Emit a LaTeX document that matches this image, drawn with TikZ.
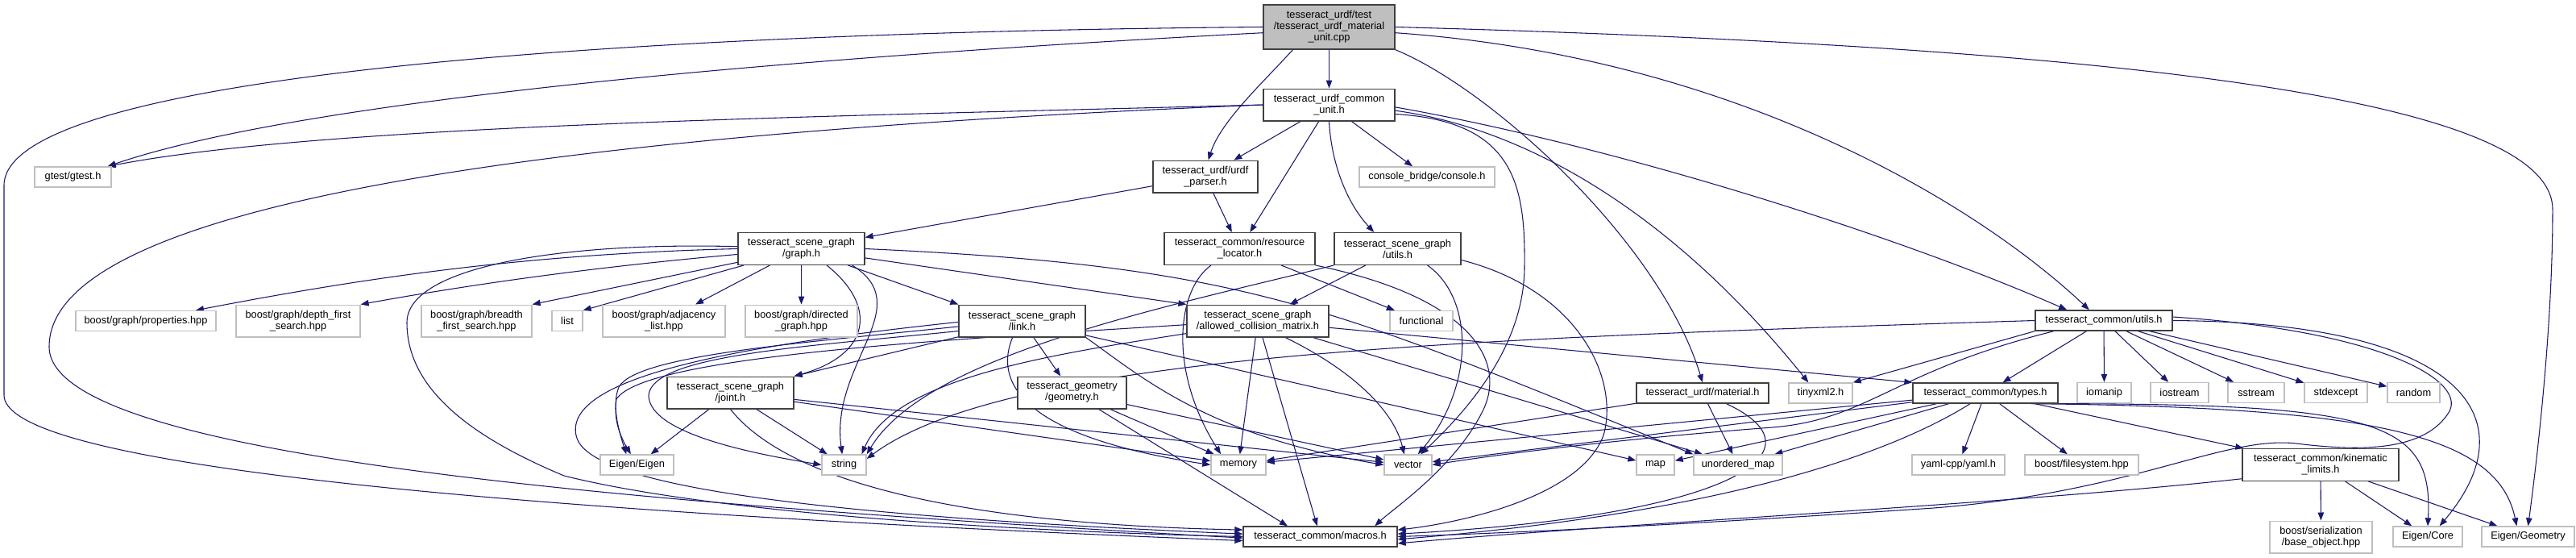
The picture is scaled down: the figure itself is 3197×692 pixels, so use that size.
\documentclass[tikz,border=0pt]{standalone}
\usepackage{fontspec}
\newfontfamily\nfont{Liberation Sans}
\usetikzlibrary{arrows.meta,backgrounds}
\definecolor{edgeblue}{RGB}{25,25,112}
\definecolor{docborder}{RGB}{64,64,64}
\definecolor{extborder}{RGB}{191,191,191}
\definecolor{rootfill}{RGB}{191,191,191}
\tikzset{
  nbase/.style={inner sep=0pt, align=center, fill=white, line width=1pt, font={\nfont\fontsize{9.6}{10.5}\selectfont}},
  doc/.style={nbase, draw=docborder},
  ext/.style={nbase, draw=extborder},
  rootn/.style={doc, fill=rootfill},
  ha/.style={minimum height=18.75pt},
  hb/.style={minimum height=29.75pt},
  hc/.style={minimum height=41.25pt},
  edge/.style={draw=edgeblue, line width=0.8pt, -{Triangle[length=7.5pt,width=5.6pt]}},
}
\begin{document}
\begin{tikzpicture}[x=0.75pt,y=-0.75pt]
\useasboundingbox (0,0) rectangle (3197,692);
% nodes
\node[rootn,hc,minimum width=122.25pt] (R) at (1649.5,33.5) {tesseract\_urdf/test\\/tesseract\_urdf\_material\\\_unit.cpp};
\node[doc,hb,minimum width=122.25pt] (cu) at (1649.5,130) {tesseract\_urdf\_common\\\_unit.h};
\node[ext,ha,minimum width=71.25pt] (gtest) at (90.5,219.5) {gtest/gtest.h};
\node[doc,hb,minimum width=97.5pt] (parser) at (1496,219) {tesseract\_urdf/urdf\\\_parser.h};
\node[ext,ha,minimum width=126pt] (console) at (1771,219.5) {console\_bridge/console.h};
\node[doc,hb,minimum width=117.75pt] (graph) at (994.5,308.5) {tesseract\_scene\_graph\\/graph.h};
\node[doc,hb,minimum width=140.25pt] (resloc) at (1538.5,308.5) {tesseract\_common/resource\\\_locator.h};
\node[doc,hb,minimum width=117.75pt] (sgutils) at (1734.5,308.5) {tesseract\_scene\_graph\\/utils.h};
\node[ext,ha,minimum width=130.5pt] (properties) at (181,398) {boost/graph/properties.hpp};
\node[ext,hb,minimum width=115.5pt] (depth) at (370,398) {boost/graph/depth\_first\\\_search.hpp};
\node[ext,hb,minimum width=102.75pt] (breadth) at (591.5,398) {boost/graph/breadth\\\_first\_search.hpp};
\node[ext,ha,minimum width=28.5pt] (list) at (704,398) {list};
\node[ext,hb,minimum width=114pt] (adjacency) at (824,398) {boost/graph/adjacency\\\_list.hpp};
\node[ext,hb,minimum width=104.25pt] (directed) at (994.5,398) {boost/graph/directed\\\_graph.hpp};
\node[doc,hb,minimum width=117.75pt] (link) at (1268.5,398) {tesseract\_scene\_graph\\/link.h};
\node[doc,hb,minimum width=132pt] (allowed) at (1561,398) {tesseract\_scene\_graph\\/allowed\_collision\_matrix.h};
\node[ext,ha,minimum width=58.5pt] (functional) at (1764,398) {functional};
\node[doc,ha,minimum width=127.5pt] (cutils) at (2611,397.5) {tesseract\_common/utils.h};
\node[doc,hb,minimum width=117.75pt] (joint) at (906.5,487) {tesseract\_scene\_graph\\/joint.h};
\node[doc,hb,minimum width=101.25pt] (geometry) at (1330.5,487) {tesseract\_geometry\\/geometry.h};
\node[doc,ha,minimum width=123pt] (material) at (2113,487.5) {tesseract\_urdf/material.h};
\node[ext,ha,minimum width=59.25pt] (tinyxml) at (2259.5,487.5) {tinyxml2.h};
\node[doc,ha,minimum width=135pt] (types) at (2464,487.5) {tesseract\_common/types.h};
\node[ext,ha,minimum width=50.25pt] (iomanip) at (2611.5,487) {iomanip};
\node[ext,ha,minimum width=54pt] (iostream) at (2705,487) {iostream};
\node[ext,ha,minimum width=52.5pt] (sstream) at (2800,487) {sstream};
\node[ext,ha,minimum width=58.5pt] (stdexcept) at (2899,487) {stdexcept};
\node[ext,ha,minimum width=48.75pt] (random) at (2995.5,487) {random};
\node[ext,ha,minimum width=68.25pt] (eigen) at (790.5,576.5) {Eigen/Eigen};
\node[ext,ha,minimum width=41.25pt] (string) at (1047.5,576.5) {string};
\node[ext,ha,minimum width=51pt] (memory) at (1537,576.5) {memory};
\node[ext,ha,minimum width=44.25pt] (vector) at (1747.5,576.5) {vector};
\node[ext,ha,minimum width=35.25pt] (map) at (2054.5,576.5) {map};
\node[ext,ha,minimum width=82.5pt] (unordered) at (2157,576.5) {unordered\_map};
\node[ext,ha,minimum width=86.25pt] (yaml) at (2430.5,576.5) {yaml-cpp/yaml.h};
\node[ext,ha,minimum width=105.75pt] (filesystem) at (2583.5,576.5) {boost/filesystem.hpp};
\node[doc,hb,minimum width=145.5pt] (kinematic) at (2880,576.5) {tesseract\_common/kinematic\\\_limits.h};
\node[doc,ha,minimum width=143.25pt] (macros) at (1638.5,665.5) {tesseract\_common/macros.h};
\node[ext,hb,minimum width=95.25pt] (baseobj) at (2880.5,666) {boost/serialization\\/base\_object.hpp};
\node[ext,ha,minimum width=64.5pt] (ecore) at (3013,665.5) {Eigen/Core};
\node[ext,ha,minimum width=86.25pt] (egeom) at (3137.5,665.5) {Eigen/Geometry};
% edges
\begin{pgfonlayer}{background}
% root
\draw[edge] (R.185) .. controls (1100,65) and (400,115) .. (gtest.17);
\draw[edge] (R.west) .. controls (800,40) and (5,90) .. (5,230) -- (5,490) .. controls (5,560) and (400,625) .. (macros.183);
\draw[edge] (R.212) .. controls (1570,100) and (1515,150) .. (parser.80);
\draw[edge] (R) -- (cu);
\draw[edge] (R.south east) .. controls (1850,110) and (2060,300) .. (material.north);
\draw[edge] (R.355) .. controls (2150,70) and (2450,250) .. (cutils.144);
\draw[edge] (R.east) .. controls (2700,60) and (3168,130) .. (3168,260) .. controls (3168,400) and (3150,560) .. (egeom.north);
% common unit
\draw[edge] (cu.west) .. controls (1000,145) and (400,155) .. (gtest.17);
\draw[edge] (cu.west) .. controls (700,165) and (61,250) .. (61,430) .. controls (61,560) and (700,620) .. (macros.181);
\draw[edge] (cu) -- (parser);
\draw[edge] (cu) -- (resloc);
\draw[edge] (cu) -- (console);
\draw[edge] (cu.south) .. controls (1652,200) and (1670,250) .. (sgutils.145);
\draw[edge] (cu.352) .. controls (1880,150) and (1893,230) .. (1892,330) .. controls (1892,430) and (1820,510) .. (vector.40);
\draw[edge] (cu.355) .. controls (1900,160) and (2080,270) .. (tinyxml.139);
\draw[edge] (cu.358) .. controls (2000,180) and (2350,290) .. (cutils.164);
% parser
\draw[edge] (parser) -- (graph);
\draw[edge] (parser) -- (resloc);
% resource locator
\draw[edge] (resloc) -- (functional);
\draw[edge] (resloc.210) .. controls (1460,360) and (1450,460) .. (memory.149);
\draw[edge] (resloc.south east) .. controls (1830,370) and (1870,450) .. (1840,510) .. controls (1805,580) and (1730,630) .. (macros.11);
% scene graph utils
\draw[edge] (sgutils) -- (allowed);
\draw[edge] (sgutils.331) .. controls (1830,370) and (1830,480) .. (vector.47);
\draw[edge] (sgutils.south west) .. controls (1450,380) and (1150,440) .. (string.north east);
\draw[edge] (sgutils.350) .. controls (1960,360) and (2010,470) .. (1990,540) .. controls (1960,620) and (1800,650) .. (macros.5);
% graph
\draw[edge] (graph.west) .. controls (650,315) and (450,345) .. (properties.12);
\draw[edge] (graph.185) .. controls (750,330) and (600,350) .. (depth.north east);
\draw[edge] (graph.192) -- (breadth.north east);
\draw[edge] (graph.196) -- (list.north east);
\draw[edge] (graph) -- (adjacency);
\draw[edge] (graph) -- (directed);
\draw[edge] (graph.327) .. controls (1090,380) and (1080,440) .. (joint.north east);
\draw[edge] (graph.342) .. controls (1140,380) and (1030,450) .. (string.100);
\draw[edge] (graph) -- (link.north west);
\draw[edge] (graph) -- (allowed.north west);
\draw[edge] (graph.east) .. controls (1550,330) and (1650,380) .. (unordered.north west);
\draw[edge] (graph.178) .. controls (700,300) and (505,330) .. (505,400) .. controls (505,480) and (580,540) .. (700,590) .. controls (900,640) and (1300,660) .. (macros.west);
% link
\draw[edge] (link.181) .. controls (900,430) and (700,470) .. (715,540) .. controls (725,590) and (900,635) .. (macros.178);
\draw[edge] (link.185) .. controls (1000,425) and (790,440) .. (768,480) .. controls (758,505) and (770,540) .. (eigen.135);
\draw[edge] (link.189) .. controls (1000,430) and (810,440) .. (805,490) .. controls (805,540) and (950,565) .. (string.west);
\draw[edge] (link.194) -- (joint.north east);
\draw[edge] (link) -- (geometry);
\draw[edge] (link.240) .. controls (1235,470) and (1260,540) .. (memory.west);
\draw[edge] (link.south east) .. controls (1420,470) and (1500,540) .. (vector.west);
\draw[edge] (link) -- (map);
% joint
\draw[edge] (joint) -- (eigen);
\draw[edge] (joint) -- (string);
\draw[edge] (joint) -- (memory);
\draw[edge] (joint) -- (vector);
\draw[edge] (joint.south) .. controls (980,600) and (1200,650) .. (macros.175);
% geometry
\draw[edge] (geometry) -- (memory);
\draw[edge] (geometry) -- (vector);
\draw[edge] (geometry) -- (macros.162);
% allowed collision matrix
\draw[edge] (allowed) -- (types.north west);
\draw[edge] (allowed) -- (memory);
\draw[edge] (allowed) -- (macros);
\draw[edge] (allowed.329) .. controls (1680,460) and (1730,510) .. (vector.110);
\draw[edge] (allowed) -- (unordered);
\draw[edge] (allowed.183) .. controls (1200,420) and (800,440) .. (765,495) .. controls (760,525) and (775,550) .. (eigen.120);
\draw[edge] (allowed.190) .. controls (1300,440) and (1110,470) .. (string.31);
% material
\draw[edge] (material) -- (memory);
\draw[edge] (material) -- (unordered);
\draw[edge] (material.336) .. controls (2270,560) and (2150,640) .. (macros.2);
% common utils
\draw[edge] (cutils) -- (types);
\draw[edge] (cutils) -- (iomanip);
\draw[edge] (cutils) -- (iostream);
\draw[edge] (cutils) -- (sstream);
\draw[edge] (cutils) -- (stdexcept);
\draw[edge] (cutils) -- (random);
\draw[edge] (cutils.south west) -- (tinyxml.north east);
\draw[edge] (cutils.west) .. controls (1800,420) and (1250,440) .. (string.15);
\draw[edge] (cutils.192) .. controls (2350,460) and (2320,520) .. (2200,530) .. controls (2000,545) and (1850,565) .. (vector.east);
\draw[edge] (cutils.east) .. controls (3060,400) and (3140,520) .. (ecore.42);
\draw[edge] (cutils.3) .. controls (2950,410) and (3060,470) .. (3040,510) .. controls (3010,560) and (2930,560) .. (2850,550) .. controls (2760,540) and (2650,610) .. (2400,630) .. controls (2100,650) and (1900,660) .. (macros.east);
% types
\draw[edge] (types) -- (yaml);
\draw[edge] (types) -- (filesystem);
\draw[edge] (types) -- (kinematic);
\draw[edge] (types.347) .. controls (2950,500) and (3020,520) .. (ecore.north);
\draw[edge] (types.347) .. controls (2950,505) and (3100,540) .. (egeom.137);
\draw[edge] (types) -- (vector);
\draw[edge] (types) -- (memory);
\draw[edge] (types) -- (map);
\draw[edge] (types) -- (unordered);
\draw[edge] (types.215) .. controls (2350,560) and (2150,635) .. (macros.358);
% kinematic limits
\draw[edge] (kinematic) -- (baseobj);
\draw[edge] (kinematic) -- (ecore);
\draw[edge] (kinematic) -- (egeom);
\draw[edge] (kinematic.190) .. controls (2500,625) and (2000,650) .. (macros.355);
\end{pgfonlayer}
\end{tikzpicture}
\end{document}
